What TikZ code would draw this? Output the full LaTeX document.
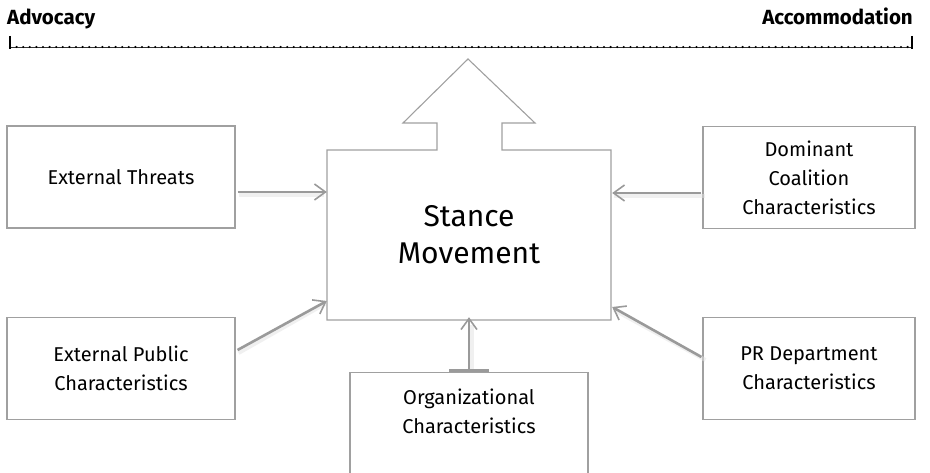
\documentclass[tikz,border=0pt]{standalone}
\usepackage{fontspec}
\setmainfont{Fira Sans}
\usetikzlibrary{arrows.meta}
\definecolor{boxgray}{HTML}{A0A0A0}
\definecolor{arrgray}{HTML}{9A9A9A}
\definecolor{shadowgray}{HTML}{E2E2E2}
\tikzset{
  factor/.style={draw=boxgray, line width=1.1pt, minimum width=228pt, minimum height=102pt, align=center, inner sep=0pt, font=\fontsize{20}{29}\selectfont},
  infl/.style={draw=arrgray, line width=2.6pt, -{Straight Barb[length=11pt,width=16pt,line width=1.6pt]}},
  infshadow/.style={draw=shadowgray, line width=4pt, opacity=0.5},
  header/.style={font=\fontsize{20.5}{22}\bfseries\selectfont, inner sep=0pt}
}
\begin{document}
\begin{tikzpicture}[x=1pt,y=-1pt]
\useasboundingbox (0,0) rectangle (930,473);
\clip (0,0) rectangle (930,473);
% scale
\node[header, anchor=base west] (adv) at (7,25) {Advocacy};
\node[header, anchor=base east] (acc) at (913,25) {Accommodation};
\coordinate (sl) at (10,47);
\coordinate (sr) at (912,47);
\draw[line width=0.6pt, black!80] (sl) -- (sr);
\draw[line width=2.3pt, line cap=round, dash pattern=on 0pt off 6.6pt] (sl) -- (sr);
\draw[line width=1.8pt] (10,36) -- (10,49);
\draw[line width=1.8pt] (912,36) -- (912,49);
% central stance node with arrow outline
\node[minimum width=284pt, minimum height=170pt, inner sep=0pt] (sm) at (469,235) {};
\draw[boxgray, line width=1.1pt] (327,320) -- (327,150) -- (437,150) -- (437,123) -- (403,123) -- (468,59) -- (535,123) -- (502,123) -- (502,150) -- (611,150) -- (611,320) -- cycle;
\node[align=center, font=\fontsize{30}{37}\selectfont] (smt) at (469,235) {Stance\\Movement};
% factor boxes
\node[factor] (et) at (121,177) {External Threats};
\node[factor] (ep) at (121,368.5) {External Public\\Characteristics};
\node[factor, minimum width=238pt, minimum height=120pt, anchor=north] (org) at (469,372) {};
\node[align=center, font=\fontsize{20}{29}\selectfont] (orgt) at (469,411) {Organizational\\Characteristics};
\node[factor, minimum width=212pt] (dc) at (809,177.5) {Dominant\\Coalition\\Characteristics};
\node[factor, minimum width=212pt] (pr) at (809,368.5) {PR Department\\Characteristics};
% shadows
\draw[infshadow] ([shift={(3,3)}]et.east |- 0,192) -- ([shift={(-3,3)}]sm.west |- 0,192);
\draw[infshadow] ([shift={(3,3)}]ep.east |- 0,350) -- ([shift={(-2,3)}]sm.west |- 0,301);
\draw[infshadow] ([shift={(3,3)}]dc.west |- 0,193) -- ([shift={(3,3)}]sm.east |- 0,193);
\draw[infshadow] ([shift={(3,3)}]pr.west |- 0,357) -- ([shift={(3,3)}]sm.east |- 0,307);
\draw[infshadow] ([shift={(3,0)}]org.north) -- ([shift={(3,5)}]sm.south);
% influence arrows
\draw[infl] ([xshift=2pt]et.east |- 0,192) -- (sm.west |- 0,192);
\draw[infl] ([xshift=2pt]ep.east |- 0,350) -- (sm.west |- 0,301);
\draw[infl] ([xshift=-1pt]dc.west |- 0,193) -- ([xshift=1pt]sm.east |- 0,193);
\draw[infl] ([xshift=-1pt]pr.west |- 0,357) -- ([xshift=1pt]sm.east |- 0,307);
\draw[infl, arrows={Bar[width=40pt,line width=3pt]-Straight Barb[length=11pt,width=16pt,line width=1.6pt]}] (org.north) -- ([yshift=3pt]sm.south);
\end{tikzpicture}
\end{document}
